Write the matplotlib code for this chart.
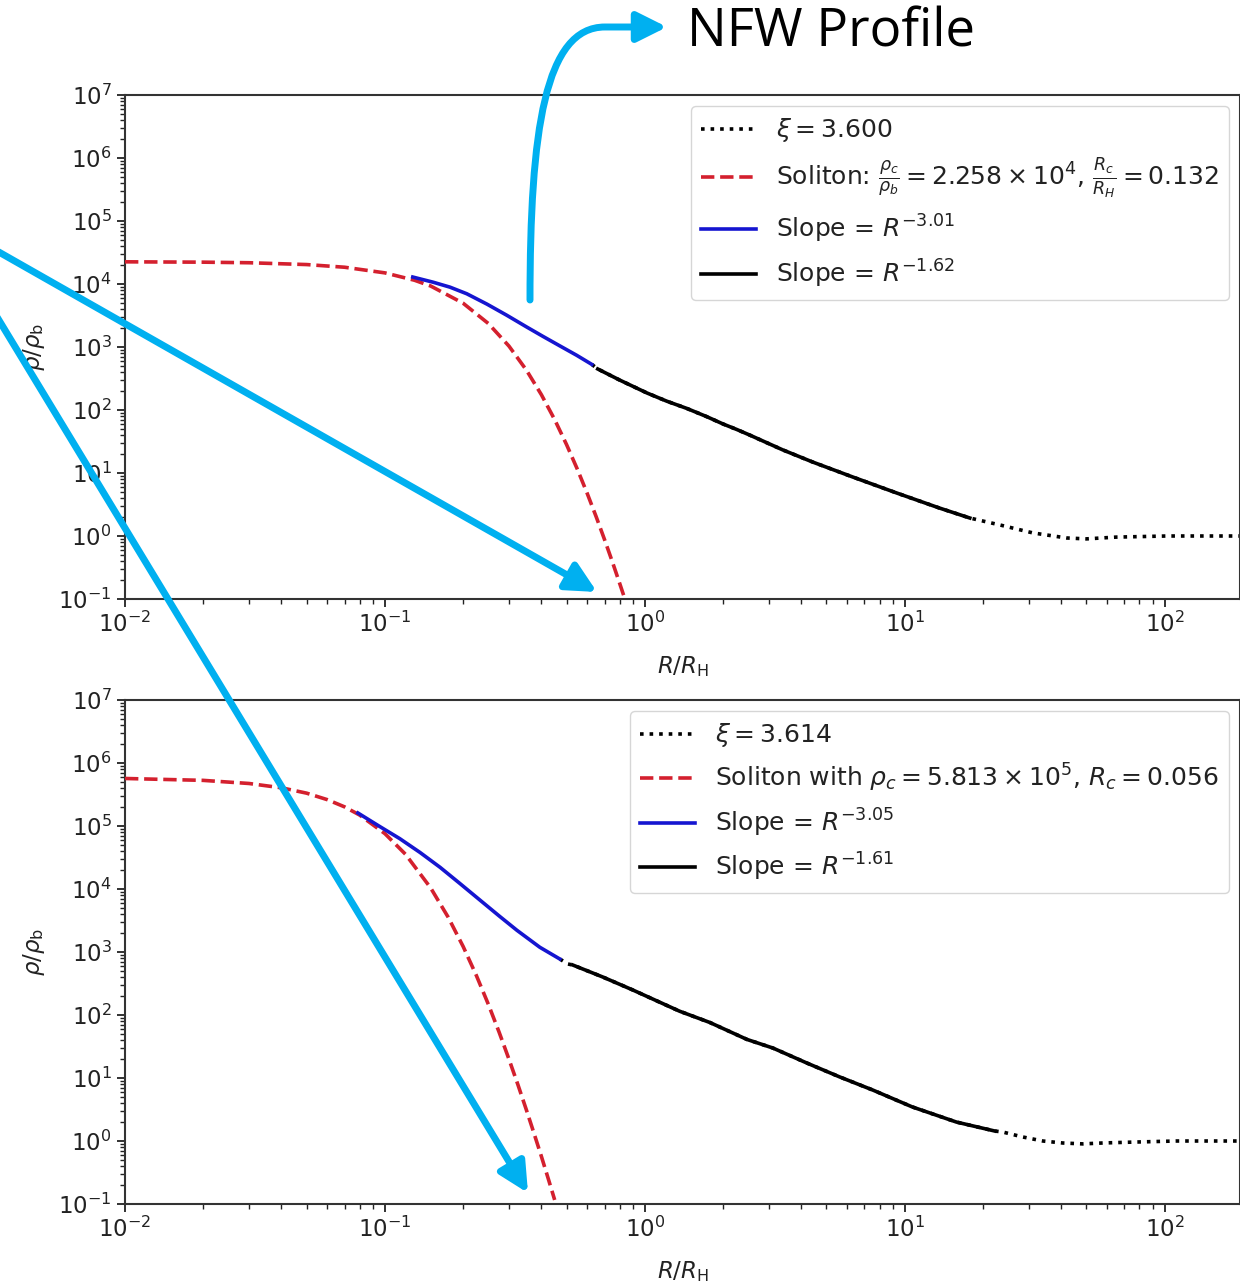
import numpy as np
import matplotlib
matplotlib.use("Agg")
import matplotlib.pyplot as plt
from matplotlib.patches import FancyArrowPatch
from matplotlib.path import Path
from matplotlib.ticker import LogLocator, NullFormatter

# ---------------- data ----------------
# top panel
sol_top_r = [0.01, 0.02, 0.03, 0.05, 0.07, 0.1, 0.13, 0.15, 0.2, 0.25, 0.3, 0.35,
             0.4, 0.45, 0.5, 0.55, 0.6, 0.65, 0.7, 0.75, 0.8, 0.85]
sol_top_rho = [22490, 22210, 21750, 20350, 18450, 15020, 11470, 9290, 4950, 2360, 1036, 432,
               175, 70.3, 28.2, 11.5, 4.77, 2.02, 0.876, 0.39, 0.178, 0.084]
blue_top_r = [0.128, 0.153, 0.178, 0.2065, 0.247, 0.294, 0.352, 0.405, 0.471, 0.547, 0.625]
blue_top_rho = [12900, 10700, 8910, 7000, 4790, 3200, 2065, 1479, 1042, 738, 530]
black_top_r = [0.659, 0.80, 1.02, 1.215, 1.45, 1.73, 2.0, 2.26, 2.53, 3.40, 4.43, 6.31,
               9.31, 13.6, 17.8]
black_top_rho = [448, 299, 186, 138, 106, 78.5, 60.0, 49.0, 40.1, 23.2, 14.9, 8.64,
                 4.82, 2.78, 1.93]
tail_top_r = [17.8, 23.2, 31.1, 42, 50, 65, 102, 195]
tail_top_rho = [1.93, 1.5, 1.12, 0.93, 0.9, 0.96, 1.0, 1.0]

# bottom panel
sol_bot_r = [0.01, 0.02, 0.03, 0.04, 0.05, 0.06, 0.07, 0.08, 0.1, 0.12, 0.15, 0.175, 0.2,
             0.225, 0.25, 0.275, 0.3, 0.325, 0.35, 0.375, 0.4, 0.425, 0.45]
sol_bot_rho = [5.68e5, 5.30e5, 4.73e5, 4.04e5, 3.32e5, 2.62e5, 2.01e5, 1.49e5, 7.57e4,
               3.56e4, 1.04e4, 3590, 1223, 421, 148, 53.5, 20, 7.8, 3.14, 1.31, 0.57,
               0.253, 0.116]
blue_bot_r = [0.0787, 0.0957, 0.114, 0.1365, 0.163, 0.194, 0.232, 0.2766, 0.322, 0.3945, 0.471]
blue_bot_rho = [1.61e5, 9.77e4, 6.31e4, 3.80e4, 2.21e4, 1.23e4, 6680, 3670, 2213, 1189, 774]
gap_bot_r = [0.506]
gap_bot_rho = [645]
black_bot_r = [0.528, 0.689, 0.90, 1.36, 1.78, 2.47, 3.11, 4.20, 5.62, 7.53, 10.7, 15.8, 22.2]
black_bot_rho = [622, 401, 249, 115, 76, 41, 29.9, 17.3, 10.4, 6.45, 3.47, 2.0, 1.44]
tail_bot_r = [22.2, 23.8, 28.4, 34, 40.5, 48.4, 57.8, 75.3, 111, 195]
tail_bot_rho = [1.44, 1.39, 1.16, 1.0, 0.93, 0.90, 0.93, 0.96, 1.0, 1.0]

labels_top = [r"$\xi = 3.600$",
              r"Soliton: $\frac{\rho_c}{\rho_b} = 2.258 \times 10^4$, $\frac{R_c}{R_H} = 0.132$",
              r"Slope = $R^{-3.01}$",
              r"Slope = $R^{-1.62}$"]
labels_bot = [r"$\xi = 3.614$",
              r"Soliton with $\rho_c = 5.813 \times 10^5$, $R_c = 0.056$",
              r"Slope = $R^{-3.05}$",
              r"Slope = $R^{-1.61}$"]

# ---------------- figure ----------------
W, H = 1240, 1284
fig = plt.figure(figsize=(W / 100, H / 100), dpi=100)
FS = 16.5
LFS = 18
TXT = "#222222"
RED = "#d4202e"
BLUE = "#1515d0"
LW = 2.6


def px(x, y):
    return (x / W, 1 - y / H)


def panel(rect, sol_r, sol_rho, blue_r, blue_rho, black_r, black_rho, tail_r, tail_rho,
          labels, gap_r=(), gap_rho=()):
    ax = fig.add_axes(rect)
    dot_r = [blue_r[-1]] + list(gap_r) + list(black_r) + list(tail_r[1:])
    dot_rho = [blue_rho[-1]] + list(gap_rho) + list(black_rho) + list(tail_rho[1:])
    l1, = ax.plot(dot_r, dot_rho, ls=":", color="black", lw=LW, zorder=2)
    l2, = ax.plot(sol_r, sol_rho, ls="--", color=RED, lw=LW, zorder=3)
    l3, = ax.plot(blue_r, blue_rho, ls="-", color=BLUE, lw=LW, zorder=4)
    l4, = ax.plot(black_r, black_rho, ls="-", color="black", lw=LW, zorder=4)
    ax.set_xscale("log")
    ax.set_yscale("log")
    ax.set_xlim(0.01, 195)
    ax.set_ylim(0.1, 1e7)
    ax.yaxis.set_major_locator(LogLocator(base=10, numticks=20))
    ax.yaxis.set_minor_locator(LogLocator(base=10, subs=np.arange(2, 10), numticks=100))
    ax.yaxis.set_minor_formatter(NullFormatter())
    ax.xaxis.set_major_locator(LogLocator(base=10, numticks=20))
    ax.xaxis.set_minor_locator(LogLocator(base=10, subs=np.arange(2, 10), numticks=100))
    ax.xaxis.set_minor_formatter(NullFormatter())
    ax.tick_params(which="major", length=6, width=1.3, labelsize=FS, colors=TXT)
    ax.tick_params(which="minor", length=3.5, width=1.0, colors=TXT)
    for s in ax.spines.values():
        s.set_linewidth(1.5)
        s.set_color("#333333")
    ax.set_xlabel(r"$R/R_\mathrm{H}$", fontsize=FS, color=TXT, labelpad=12)
    ax.set_ylabel(r"$\rho/\rho_\mathrm{b}$", fontsize=FS, color=TXT, labelpad=8)
    leg = ax.legend([l1, l2, l3, l4], labels, loc="upper right", fontsize=LFS,
                    handlelength=2.2, labelcolor=TXT, borderaxespad=0.45)
    leg.set_zorder(5)
    return ax


ax1 = panel([125 / W, 1 - 599 / H, 1115 / W, 504 / H],
            sol_top_r, sol_top_rho, blue_top_r, blue_top_rho,
            black_top_r, black_top_rho, tail_top_r, tail_top_rho, labels_top)
ax2 = panel([125 / W, 1 - 1204 / H, 1115 / W, 504 / H],
            sol_bot_r, sol_bot_rho, blue_bot_r, blue_bot_rho,
            black_bot_r, black_bot_rho, tail_bot_r, tail_bot_rho, labels_bot,
            gap_bot_r, gap_bot_rho)

# ---------------- annotations ----------------
CYAN = "#00b0f0"
astyle = "-|>,head_length=0.6,head_width=0.3"
MS = 30

a1 = FancyArrowPatch(px(-10, 247), px(597, 592), transform=fig.transFigure,
                     arrowstyle=astyle, mutation_scale=MS, color=CYAN, lw=5,
                     shrinkA=0, shrinkB=0, zorder=10)
fig.add_artist(a1)
a2 = FancyArrowPatch(px(-6, 312), px(528, 1193), transform=fig.transFigure,
                     arrowstyle=astyle, mutation_scale=MS, color=CYAN, lw=5,
                     shrinkA=0, shrinkB=0, zorder=10)
fig.add_artist(a2)

verts = [px(530, 300), px(530, 130), px(545, 27), px(605, 27), px(667, 27)]
codes = [Path.MOVETO, Path.CURVE4, Path.CURVE4, Path.CURVE4, Path.LINETO]
a3 = FancyArrowPatch(path=Path(verts, codes), transform=fig.transFigure,
                     arrowstyle=astyle, mutation_scale=MS, color=CYAN, lw=5,
                     shrinkA=0, shrinkB=0, zorder=10)
fig.add_artist(a3)

fig.text(687 / W, 1 - 33 / H, "NFW Profile", fontsize=38, family="Open Sans",
         color="black", ha="left", va="center")

fig.savefig("out.png", dpi=100)
